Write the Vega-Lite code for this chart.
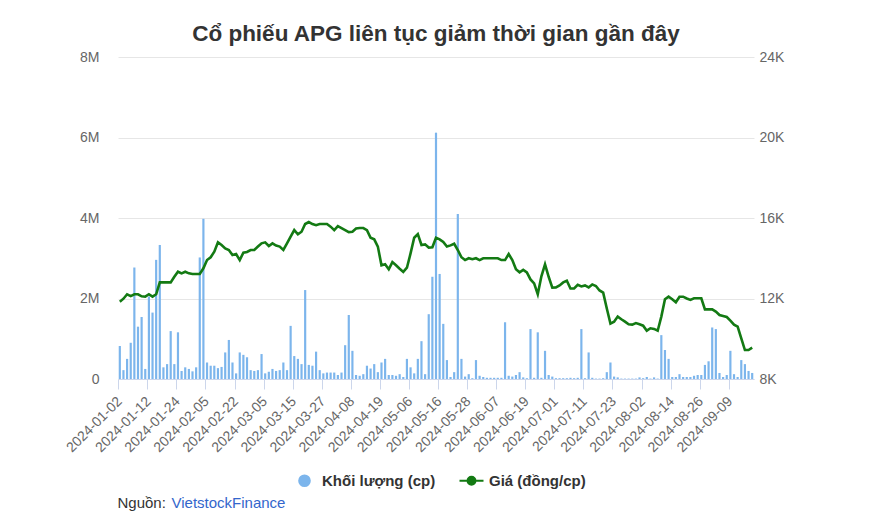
{
  "$schema": "https://vega.github.io/schema/vega-lite/v6.json",
  "width": 636,
  "height": 322,
  "autosize": {"type": "none"},
  "padding": {"left": 118, "top": 57, "right": 116, "bottom": 149},
  "background": "white",
  "title": {"text": "Cổ phiếu APG liên tục giảm thời gian gần đây", "fontSize": 22.5, "fontWeight": "bold", "color": "#333333", "font": "Liberation Sans", "offset": 5, "anchor": "middle"},
  "config": {"view": {"stroke": null}, "font": "Liberation Sans"},
  "data": {"values": [
    {"d":"2024-01-02","v":820000,"p":11840},{"d":"2024-01-03","v":220000,"p":11990},{"d":"2024-01-04","v":500000,"p":12210},{"d":"2024-01-05","v":900000,"p":12120},{"d":"2024-01-08","v":2770000,"p":12210},{"d":"2024-01-09","v":1300000,"p":12210},{"d":"2024-01-10","v":1540000,"p":12110},{"d":"2024-01-11","v":250000,"p":12090},{"d":"2024-01-12","v":2050000,"p":12210},{"d":"2024-01-15","v":1650000,"p":12090},
    {"d":"2024-01-16","v":2960000,"p":12210},{"d":"2024-01-17","v":3330000,"p":12800},{"d":"2024-01-18","v":290000,"p":12800},{"d":"2024-01-19","v":370000,"p":12800},{"d":"2024-01-22","v":1190000,"p":12800},{"d":"2024-01-23","v":370000,"p":13080},{"d":"2024-01-24","v":1160000,"p":13330},{"d":"2024-01-25","v":200000,"p":13250},{"d":"2024-01-26","v":290000,"p":13330},{"d":"2024-01-29","v":250000,"p":13250},
    {"d":"2024-01-30","v":190000,"p":13220},{"d":"2024-01-31","v":290000,"p":13220},{"d":"2024-02-01","v":3020000,"p":13220},{"d":"2024-02-02","v":3980000,"p":13500},{"d":"2024-02-05","v":410000,"p":13910},{"d":"2024-02-06","v":330000,"p":14050},{"d":"2024-02-07","v":330000,"p":14330},{"d":"2024-02-15","v":270000,"p":14790},{"d":"2024-02-16","v":300000,"p":14660},{"d":"2024-02-19","v":660000,"p":14490},
    {"d":"2024-02-20","v":970000,"p":14410},{"d":"2024-02-21","v":410000,"p":14160},{"d":"2024-02-22","v":140000,"p":14210},{"d":"2024-02-23","v":660000,"p":13910},{"d":"2024-02-26","v":600000,"p":14280},{"d":"2024-02-27","v":540000,"p":14310},{"d":"2024-02-28","v":220000,"p":14410},{"d":"2024-02-29","v":200000,"p":14410},{"d":"2024-03-01","v":220000,"p":14580},{"d":"2024-03-04","v":620000,"p":14740},
    {"d":"2024-03-05","v":140000,"p":14790},{"d":"2024-03-06","v":180000,"p":14610},{"d":"2024-03-07","v":250000,"p":14740},{"d":"2024-03-08","v":200000,"p":14630},{"d":"2024-03-11","v":220000,"p":14580},{"d":"2024-03-12","v":410000,"p":14410},{"d":"2024-03-13","v":220000,"p":14740},{"d":"2024-03-14","v":1320000,"p":15070},{"d":"2024-03-15","v":570000,"p":15400},{"d":"2024-03-18","v":500000,"p":15190},
    {"d":"2024-03-19","v":370000,"p":15320},{"d":"2024-03-20","v":2210000,"p":15700},{"d":"2024-03-21","v":350000,"p":15800},{"d":"2024-03-22","v":330000,"p":15700},{"d":"2024-03-25","v":680000,"p":15640},{"d":"2024-03-26","v":220000,"p":15700},{"d":"2024-03-27","v":140000,"p":15700},{"d":"2024-03-28","v":160000,"p":15700},{"d":"2024-03-29","v":160000,"p":15570},{"d":"2024-04-01","v":160000,"p":15400},
    {"d":"2024-04-02","v":100000,"p":15600},{"d":"2024-04-03","v":160000,"p":15500},{"d":"2024-04-04","v":840000,"p":15400},{"d":"2024-04-05","v":1590000,"p":15300},{"d":"2024-04-08","v":700000,"p":15320},{"d":"2024-04-09","v":100000,"p":15480},{"d":"2024-04-10","v":80000,"p":15500},{"d":"2024-04-11","v":120000,"p":15500},{"d":"2024-04-12","v":330000,"p":15400},{"d":"2024-04-15","v":260000,"p":15020},
    {"d":"2024-04-16","v":370000,"p":14940},{"d":"2024-04-17","v":170000,"p":14580},{"d":"2024-04-19","v":410000,"p":13650},{"d":"2024-04-22","v":500000,"p":13700},{"d":"2024-04-23","v":100000,"p":13450},{"d":"2024-04-24","v":100000,"p":13810},{"d":"2024-04-25","v":80000,"p":13650},{"d":"2024-04-26","v":120000,"p":13480},{"d":"2024-05-02","v":50000,"p":13320},{"d":"2024-05-03","v":500000,"p":13530},
    {"d":"2024-05-06","v":290000,"p":14240},{"d":"2024-05-07","v":140000,"p":15020},{"d":"2024-05-08","v":500000,"p":15200},{"d":"2024-05-09","v":940000,"p":14660},{"d":"2024-05-10","v":120000,"p":14690},{"d":"2024-05-13","v":1610000,"p":14530},{"d":"2024-05-14","v":2540000,"p":14550},{"d":"2024-05-15","v":6120000,"p":15020},{"d":"2024-05-16","v":2610000,"p":14940},{"d":"2024-05-17","v":1370000,"p":14810},
    {"d":"2024-05-20","v":470000,"p":14580},{"d":"2024-05-21","v":50000,"p":14640},{"d":"2024-05-22","v":170000,"p":14720},{"d":"2024-05-23","v":4100000,"p":14410},{"d":"2024-05-24","v":500000,"p":14050},{"d":"2024-05-27","v":60000,"p":13910},{"d":"2024-05-28","v":120000,"p":14000},{"d":"2024-05-29","v":20000,"p":13950},{"d":"2024-05-30","v":470000,"p":14000},{"d":"2024-05-31","v":80000,"p":13910},
    {"d":"2024-06-03","v":50000,"p":14000},{"d":"2024-06-04","v":30000,"p":14000},{"d":"2024-06-05","v":30000,"p":14000},{"d":"2024-06-06","v":30000,"p":14000},{"d":"2024-06-07","v":30000,"p":14000},{"d":"2024-06-10","v":30000,"p":13910},{"d":"2024-06-11","v":1410000,"p":13910},{"d":"2024-06-12","v":80000,"p":14210},{"d":"2024-06-13","v":60000,"p":13910},{"d":"2024-06-14","v":100000,"p":13450},
    {"d":"2024-06-17","v":170000,"p":13300},{"d":"2024-06-18","v":40000,"p":13420},{"d":"2024-06-19","v":20000,"p":13300},{"d":"2024-06-20","v":1240000,"p":12950},{"d":"2024-06-21","v":30000,"p":12750},{"d":"2024-06-24","v":1160000,"p":12210},{"d":"2024-06-25","v":30000,"p":13100},{"d":"2024-06-26","v":700000,"p":13700},{"d":"2024-06-27","v":100000,"p":13080},{"d":"2024-06-28","v":60000,"p":12540},
    {"d":"2024-07-01","v":20000,"p":12550},{"d":"2024-07-02","v":20000,"p":12650},{"d":"2024-07-03","v":20000,"p":12800},{"d":"2024-07-04","v":20000,"p":12880},{"d":"2024-07-05","v":30000,"p":12500},{"d":"2024-07-08","v":20000,"p":12500},{"d":"2024-07-09","v":30000,"p":12680},{"d":"2024-07-10","v":1240000,"p":12600},{"d":"2024-07-11","v":20000,"p":12650},{"d":"2024-07-12","v":660000,"p":12550},
    {"d":"2024-07-15","v":30000,"p":12700},{"d":"2024-07-16","v":10000,"p":12620},{"d":"2024-07-17","v":10000,"p":12400},{"d":"2024-07-18","v":20000,"p":12290},{"d":"2024-07-19","v":170000,"p":11500},{"d":"2024-07-22","v":410000,"p":10750},{"d":"2024-07-23","v":60000,"p":10850},{"d":"2024-07-24","v":40000,"p":11100},{"d":"2024-07-25","v":10000,"p":10970},{"d":"2024-07-26","v":10000,"p":10850},
    {"d":"2024-07-29","v":10000,"p":10720},{"d":"2024-07-30","v":10000,"p":10700},{"d":"2024-07-31","v":10000,"p":10780},{"d":"2024-08-01","v":40000,"p":10720},{"d":"2024-08-02","v":20000,"p":10650},{"d":"2024-08-05","v":50000,"p":10400},{"d":"2024-08-06","v":10000,"p":10520},{"d":"2024-08-07","v":40000,"p":10490},{"d":"2024-08-08","v":10000,"p":10400},{"d":"2024-08-09","v":1090000,"p":11100},
    {"d":"2024-08-12","v":720000,"p":11960},{"d":"2024-08-13","v":500000,"p":12090},{"d":"2024-08-14","v":50000,"p":11960},{"d":"2024-08-15","v":50000,"p":11810},{"d":"2024-08-16","v":120000,"p":12090},{"d":"2024-08-19","v":50000,"p":12090},{"d":"2024-08-20","v":50000,"p":12000},{"d":"2024-08-21","v":50000,"p":11930},{"d":"2024-08-22","v":80000,"p":12010},{"d":"2024-08-23","v":100000,"p":12010},
    {"d":"2024-08-26","v":100000,"p":12010},{"d":"2024-08-27","v":350000,"p":11460},{"d":"2024-08-28","v":440000,"p":11460},{"d":"2024-08-29","v":1280000,"p":11460},{"d":"2024-08-30","v":1240000,"p":11350},{"d":"2024-09-04","v":150000,"p":11180},{"d":"2024-09-05","v":50000,"p":11130},{"d":"2024-09-06","v":100000,"p":11080},{"d":"2024-09-09","v":700000,"p":10900},{"d":"2024-09-10","v":120000,"p":10700},
    {"d":"2024-09-11","v":50000,"p":10600},{"d":"2024-09-12","v":470000,"p":10020},{"d":"2024-09-13","v":370000,"p":9440},{"d":"2024-09-16","v":200000,"p":9440},{"d":"2024-09-17","v":150000,"p":9560}
  ]},
  "encoding": {
    "x": {
      "field": "d", "type": "ordinal", "sort": null,
      "scale": {"paddingInner": 0.4, "paddingOuter": 0.2},
      "axis": {
        "values": ["2024-01-02","2024-01-12","2024-01-24","2024-02-05","2024-02-22","2024-03-05","2024-03-15","2024-03-27","2024-04-08","2024-04-19","2024-05-06","2024-05-16","2024-05-28","2024-06-07","2024-06-19","2024-07-01","2024-07-11","2024-07-23","2024-08-02","2024-08-14","2024-08-26","2024-09-09"],
        "bandPosition": 0,
        "labelAngle": -45, "labelAlign": "right", "labelBaseline": "middle",
        "labelFontSize": 14, "labelColor": "#666666", "labelPadding": 10,
        "tickSize": 10, "tickColor": "#ccd6eb", "domainColor": "#ccd6eb", "grid": false,
        "title": "Nguồn:", "titleAnchor": "start", "titleAlign": "left", "titleBaseline": "middle",
        "titleX": -1, "titleY": 123, "titleFontSize": 15, "titleFontWeight": "normal", "titleColor": "#333333"
      }
    }
  },
  "layer": [
    {
      "mark": {"type": "bar", "color": "#7cb5ec"},
      "encoding": {
        "y": {
          "field": "v", "type": "quantitative", "scale": {"domain": [0, 8000000]},
          "axis": {
            "orient": "left", "values": [0, 2000000, 4000000, 6000000, 8000000],
            "labelExpr": "datum.value == 0 ? '0' : (datum.value / 1000000) + 'M'",
            "grid": true, "gridColor": "#e6e6e6", "domain": false, "ticks": false,
            "labelPadding": 19, "labelFontSize": 14, "labelColor": "#666666",
            "title": "VietstockFinance", "titleAngle": 0, "titleX": 53, "titleY": 445,
            "titleAlign": "left", "titleBaseline": "middle", "titleColor": "#3366cc",
            "titleFontSize": 15, "titleFontWeight": "normal"
          }
        },
        "color": {
          "datum": "Khối lượng (cp)",
          "scale": {"domain": ["Khối lượng (cp)", "Giá (đồng/cp)"], "range": ["#7cb5ec", "#137a13"]},
          "legend": {
            "orient": "none", "legendX": 179, "legendY": 416, "direction": "horizontal",
            "title": null, "labelFontSize": 15, "labelFontWeight": "bold", "labelColor": "#333333",
            "symbolSize": 576, "labelOffset": 10, "columnPadding": 19,
            "encode": {
              "symbols": {
                "update": {
                  "shape": {"signal": "datum.value === 'Giá (đồng/cp)' ? 'M-1,0L1,0M-0.33,0A0.33,0.33,0,1,0,0.33,0A0.33,0.33,0,1,0,-0.33,0Z' : 'circle'"},
                  "size": {"signal": "datum.value === 'Giá (đồng/cp)' ? 576 : 160"},
                  "fill": {"signal": "datum.value === 'Giá (đồng/cp)' ? '#137a13' : '#7cb5ec'"},
                  "stroke": {"signal": "datum.value === 'Giá (đồng/cp)' ? '#137a13' : '#7cb5ec'"},
                  "strokeWidth": {"signal": "datum.value === 'Giá (đồng/cp)' ? 2 : 0"},
                  "opacity": {"value": 1},
                  "fillOpacity": {"value": 1}
                }
              }
            }
          }
        }
      }
    },
    {
      "mark": {"type": "line", "strokeWidth": 2.6, "interpolate": "linear"},
      "encoding": {
        "y": {
          "field": "p", "type": "quantitative", "scale": {"domain": [8000, 24000]},
          "axis": {
            "orient": "right", "values": [8000, 12000, 16000, 20000, 24000],
            "labelExpr": "(datum.value / 1000) + 'K'",
            "grid": false, "domain": false, "ticks": false,
            "labelPadding": 5, "labelFontSize": 14, "labelColor": "#666666", "title": null
          }
        },
        "color": {"datum": "Giá (đồng/cp)"}
      }
    }
  ],
  "resolve": {"scale": {"y": "independent"}}
}
